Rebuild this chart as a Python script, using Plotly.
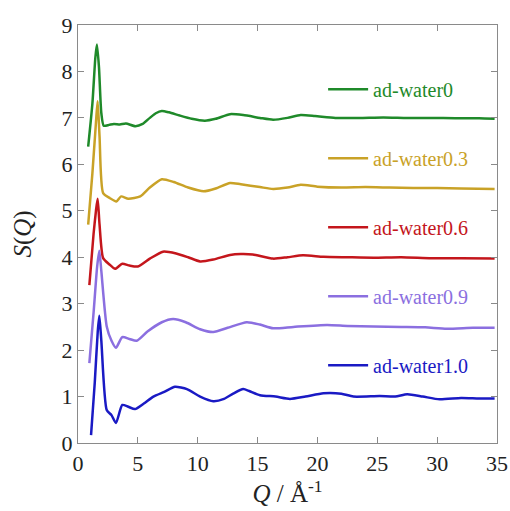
import plotly.graph_objects as go

names = ["ad-water0", "ad-water0.3", "ad-water0.6", "ad-water0.9", "ad-water1.0"]
colors = ["#1f8a2a", "#c9a227", "#c4161c", "#8b6fe0", "#1a1ac4"]

q_w0 = [0.85, 1.2, 1.45, 1.58, 1.75, 1.95, 2.15, 2.6, 3.0, 3.5, 4.0, 4.8, 5.4, 6.0, 6.5, 7.0, 7.6, 8.5, 9.5, 10.6, 11.5, 12.7, 13.8, 15.2, 16.3, 17.5, 18.6, 19.8, 21.5, 23.5, 25.5, 27.5, 29.5, 31.5, 33.5, 34.8]
s_w0 = [6.38, 7.3, 8.3, 8.58, 8.1, 7.1, 6.83, 6.85, 6.87, 6.86, 6.88, 6.82, 6.87, 7.0, 7.1, 7.15, 7.12, 7.05, 6.98, 6.94, 6.98, 7.08, 7.06, 7.0, 6.96, 7.0, 7.06, 7.04, 7.0, 7.0, 7.01, 7.0, 7.0, 6.99, 6.99, 6.98]

q_w3 = [0.85, 1.2, 1.5, 1.64, 1.8, 2.1, 2.67, 3.2, 3.6, 4.2, 5.2, 6.0, 7.0, 8.0, 9.2, 10.5, 11.5, 12.7, 13.6, 15.2, 16.3, 17.5, 18.6, 20.0, 22.0, 24.0, 26.0, 28.0, 30.0, 32.0, 34.8]
s_w3 = [4.7, 5.8, 6.9, 7.36, 6.6, 5.38, 5.27, 5.2, 5.31, 5.26, 5.31, 5.5, 5.68, 5.62, 5.5, 5.42, 5.48, 5.6, 5.57, 5.51, 5.47, 5.5, 5.56, 5.52, 5.5, 5.51, 5.5, 5.49, 5.49, 5.48, 5.47]

q_w6 = [0.95, 1.3, 1.5, 1.64, 1.8, 2.1, 2.6, 3.1, 3.7, 4.3, 5.0, 6.0, 7.1, 8.2, 9.2, 10.2, 11.3, 12.7, 13.6, 14.6, 16.3, 17.5, 18.8, 20.5, 22.5, 24.7, 27.0, 29.5, 32.0, 34.8]
s_w6 = [3.4, 4.5, 5.0, 5.26, 4.7, 3.98, 3.85, 3.75, 3.86, 3.82, 3.8, 3.97, 4.12, 4.08, 4.0, 3.91, 3.95, 4.05, 4.07, 4.06, 3.97, 4.0, 4.04, 4.01, 4.0, 3.99, 4.0, 3.98, 3.98, 3.97]

q_w9 = [0.95, 1.3, 1.6, 1.78, 1.95, 2.4, 2.8, 3.17, 3.7, 4.3, 4.9, 5.8, 7.0, 7.95, 9.0, 10.2, 11.3, 12.5, 14.1, 15.2, 16.3, 18.0, 20.8, 22.5, 24.7, 27.0, 29.0, 30.8, 33.0, 34.8]
s_w9 = [1.72, 2.8, 3.8, 4.14, 3.7, 2.51, 2.2, 2.05, 2.28, 2.24, 2.2, 2.4, 2.6, 2.67, 2.6, 2.45, 2.39, 2.48, 2.6, 2.55, 2.47, 2.5, 2.54, 2.52, 2.51, 2.5, 2.49, 2.46, 2.48, 2.48]

q_w10 = [1.09, 1.4, 1.65, 1.78, 1.95, 2.4, 2.8, 3.17, 3.7, 4.2, 4.76, 5.5, 6.3, 7.2, 8.1, 9.1, 10.2, 11.3, 12.2, 13.0, 13.8, 14.3, 15.2, 16.5, 17.7, 19.0, 20.5, 22.0, 23.0, 25.2, 26.5, 27.5, 28.8, 30.2, 32.0, 33.5, 34.8]
s_w10 = [0.17, 1.3, 2.4, 2.74, 2.2, 0.71, 0.6, 0.43, 0.82, 0.78, 0.73, 0.85, 1.0, 1.1, 1.21, 1.16, 1.0, 0.9, 0.95, 1.07, 1.16, 1.12, 1.03, 1.0, 0.95, 1.0, 1.07, 1.06, 1.0, 1.01, 1.0, 1.05, 1.0, 0.94, 0.97, 0.96, 0.96]

qs = [q_w0, q_w3, q_w6, q_w9, q_w10]
ss = [s_w0, s_w3, s_w6, s_w9, s_w10]

SERIF = "Liberation Serif, Times New Roman, serif"

fig = go.Figure()
for i, (n, c, q, s) in enumerate(zip(names, colors, qs, ss)):
    fig.add_trace(go.Scatter(
        x=q, y=s, mode="lines",
        line=dict(color=c, width=2.5, shape="spline", smoothing=0.6),
        name=f"<span style='color:{c}'>{n}</span>",
        legendgroup=f"g{i}",
    ))

axis_common = dict(
    showline=True, linecolor="#8a8a8a", linewidth=1.2, mirror="ticks",
    ticks="inside", ticklen=6, tickcolor="#8a8a8a", tickwidth=1,
    showgrid=False, zeroline=False, automargin=False,
    tickfont=dict(family=SERIF, size=22, color="#222"),
)

fig.update_xaxes(range=[0, 35], dtick=5, tick0=0,
                 title=dict(text="<i>Q</i> / Å<sup>-1</sup>",
                            font=dict(family=SERIF, size=25, color="#222"),
                            standoff=5),
                 **axis_common)
fig.update_yaxes(range=[0, 9], dtick=1, tick0=0,
                 title=dict(text="<i>S</i>(<i>Q</i>)",
                            font=dict(family=SERIF, size=25, color="#222"),
                            standoff=22),
                 **axis_common)

fig.update_layout(
    width=510, height=511,
    margin=dict(l=78, r=13, t=25, b=68),
    plot_bgcolor="white", paper_bgcolor="white",
    font=dict(family=SERIF),
    legend=dict(x=0.585, y=0.893, xanchor="left", yanchor="top",
                bgcolor="rgba(0,0,0,0)", tracegroupgap=40,
                font=dict(family=SERIF, size=20),
                itemwidth=40),
    showlegend=True,
)

fig.write_html("out.html", config={"displayModeBar": False},
               post_script="document.body.style.margin='0';document.body.style.overflow='hidden';")
